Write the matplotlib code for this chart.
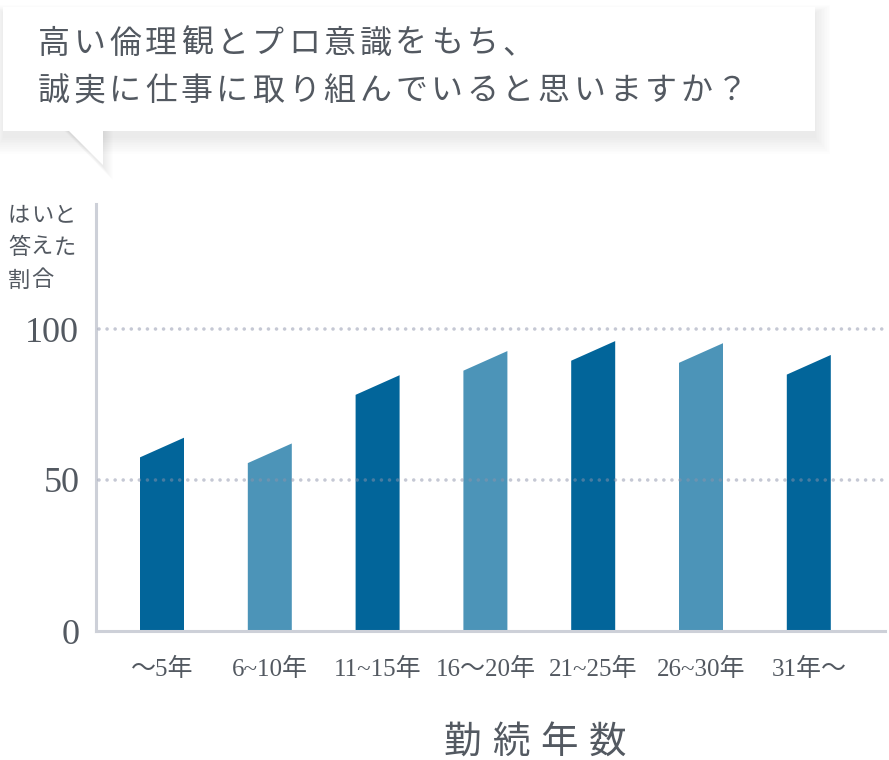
import matplotlib
matplotlib.use("Agg")
import matplotlib.pyplot as plt
from matplotlib.patches import Rectangle, Polygon

# data
categories = ["〜5年", "6~10年", "11~15年", "16〜20年", "21~25年", "26~30年", "31年〜"]
yes_share = [64.0, 62.1, 84.7, 92.7, 96.0, 95.3, 91.4]   # height at right edge of each bar
bar_colors = ["#02659a", "#4c94b8", "#02659a", "#4c94b8", "#02659a", "#4c94b8", "#02659a"]
yticks = [0, 50, 100]
title_lines = ["高い倫理観とプロ意識をもち、", "誠実に仕事に取り組んでいると思いますか？"]
ylabel_lines = ["はいと", "答えた", "割合"]
xlabel = "勤続年数"

W, H = 889, 760
DPI = 100
TXT = "#535961"
AXC = "#cdd0d8"
JP = ["Noto Sans CJK JP", "DejaVu Sans"]
SERIF = ["Liberation Serif", "Noto Sans CJK JP", "DejaVu Sans"]
plt.rcParams["lines.scale_dashes"] = False

fig = plt.figure(figsize=(W / DPI, H / DPI), dpi=DPI)
fig.patch.set_facecolor("white")

# canvas in pixel coords for decorations
bg = fig.add_axes([0, 0, 1, 1])
bg.set_xlim(0, W)
bg.set_ylim(H, 0)
bg.axis("off")

# speech bubble with soft shadow (mostly below)
bx0, by0, bx1, by1 = 3, 7, 815, 131
for k in range(10):
    g = 1 + k * 2.0
    bg.add_patch(Rectangle((bx0 - g * 0.4, by0 + 6 - g * 0.4), bx1 - bx0 + g * 1.2, by1 - by0 + g * 1.3,
                           facecolor="#000000", alpha=0.008, edgecolor="none", zorder=1))
    bg.add_patch(Polygon([(68 - g * 0.2, by1), (103 + g * 0.5, by1), (103 + g * 0.5, 167 + g * 0.7)],
                         facecolor="#000000", alpha=0.007, edgecolor="none", zorder=1))
bg.add_patch(Rectangle((bx0, by0), bx1 - bx0, by1 - by0, facecolor="white", edgecolor="none", zorder=2))
bg.add_patch(Polygon([(68, by1 - 1), (103, by1 - 1), (103, 165)], facecolor="white", edgecolor="none", zorder=2))

# title, with letter spacing
for row, (line, yc) in enumerate(zip(title_lines, [44, 91])):
    for k, ch in enumerate(line):
        bg.text(54 + k * 35.7, yc, ch, fontsize=23, color=TXT, family=JP,
                ha="center", va="center", zorder=3)

# y label
for line, yc in zip(ylabel_lines, [215, 247, 280]):
    for k, ch in enumerate(line):
        bg.text(19 + k * 23, yc, ch, fontsize=16, color=TXT, family=JP,
                ha="center", va="center", zorder=3)

# x title
for k, ch in enumerate(xlabel):
    bg.text(462 + k * 48.5, 742, ch, fontsize=27, color=TXT, family=JP,
            ha="center", va="center", zorder=3)

# chart axes: left edge at x=96, baseline at y=631, top at y=204
x_left, x_right = 96, 889
y_base, y_top = 631, 204
ax = fig.add_axes([x_left / W, (H - y_base) / H, (x_right - x_left) / W, (y_base - y_top) / H])
ax.patch.set_alpha(0)
pitch = 107.8
ax.set_xlim(-(162 - x_left) / pitch, -(162 - x_left) / pitch + (x_right - x_left) / pitch)
ax.set_ylim(0, (y_base - y_top) / 3.02)

bar_w = 44 / pitch
slant = 6.5
for i, (v, c) in enumerate(zip(yes_share, bar_colors)):
    xs = [i - bar_w / 2, i + bar_w / 2, i + bar_w / 2, i - bar_w / 2]
    ys = [0, 0, v, v - slant]
    ax.fill(xs, ys, color=c, linewidth=0, zorder=2)

# dotted gridlines
for t in yticks[1:]:
    ax.axhline(t, xmin=0.004, xmax=1, color="#8d93aa", alpha=0.5, lw=2.6,
               linestyle=(0, (0.01, 5.8)), dash_capstyle="round", zorder=3)

for s in ["top", "right"]:
    ax.spines[s].set_visible(False)
ax.spines["left"].set_color(AXC)
ax.spines["left"].set_linewidth(2.2)
ax.spines["bottom"].set_color(AXC)
ax.spines["bottom"].set_linewidth(2.2)
ax.spines["bottom"].set_bounds(ax.get_xlim()[0], ax.get_xlim()[0] + (885 - x_left) / pitch)

ax.set_yticks(yticks)
ax.set_yticklabels([str(t) for t in yticks], fontsize=26, color=TXT, family=SERIF)
ax.tick_params(axis="y", length=0, pad=12)
ax.set_xticks(range(len(categories)))
ax.set_xticklabels(categories, fontsize=18, color=TXT, family=SERIF)
ax.tick_params(axis="x", length=0, pad=19)

fig.savefig("out.png", dpi=DPI, facecolor="white")
